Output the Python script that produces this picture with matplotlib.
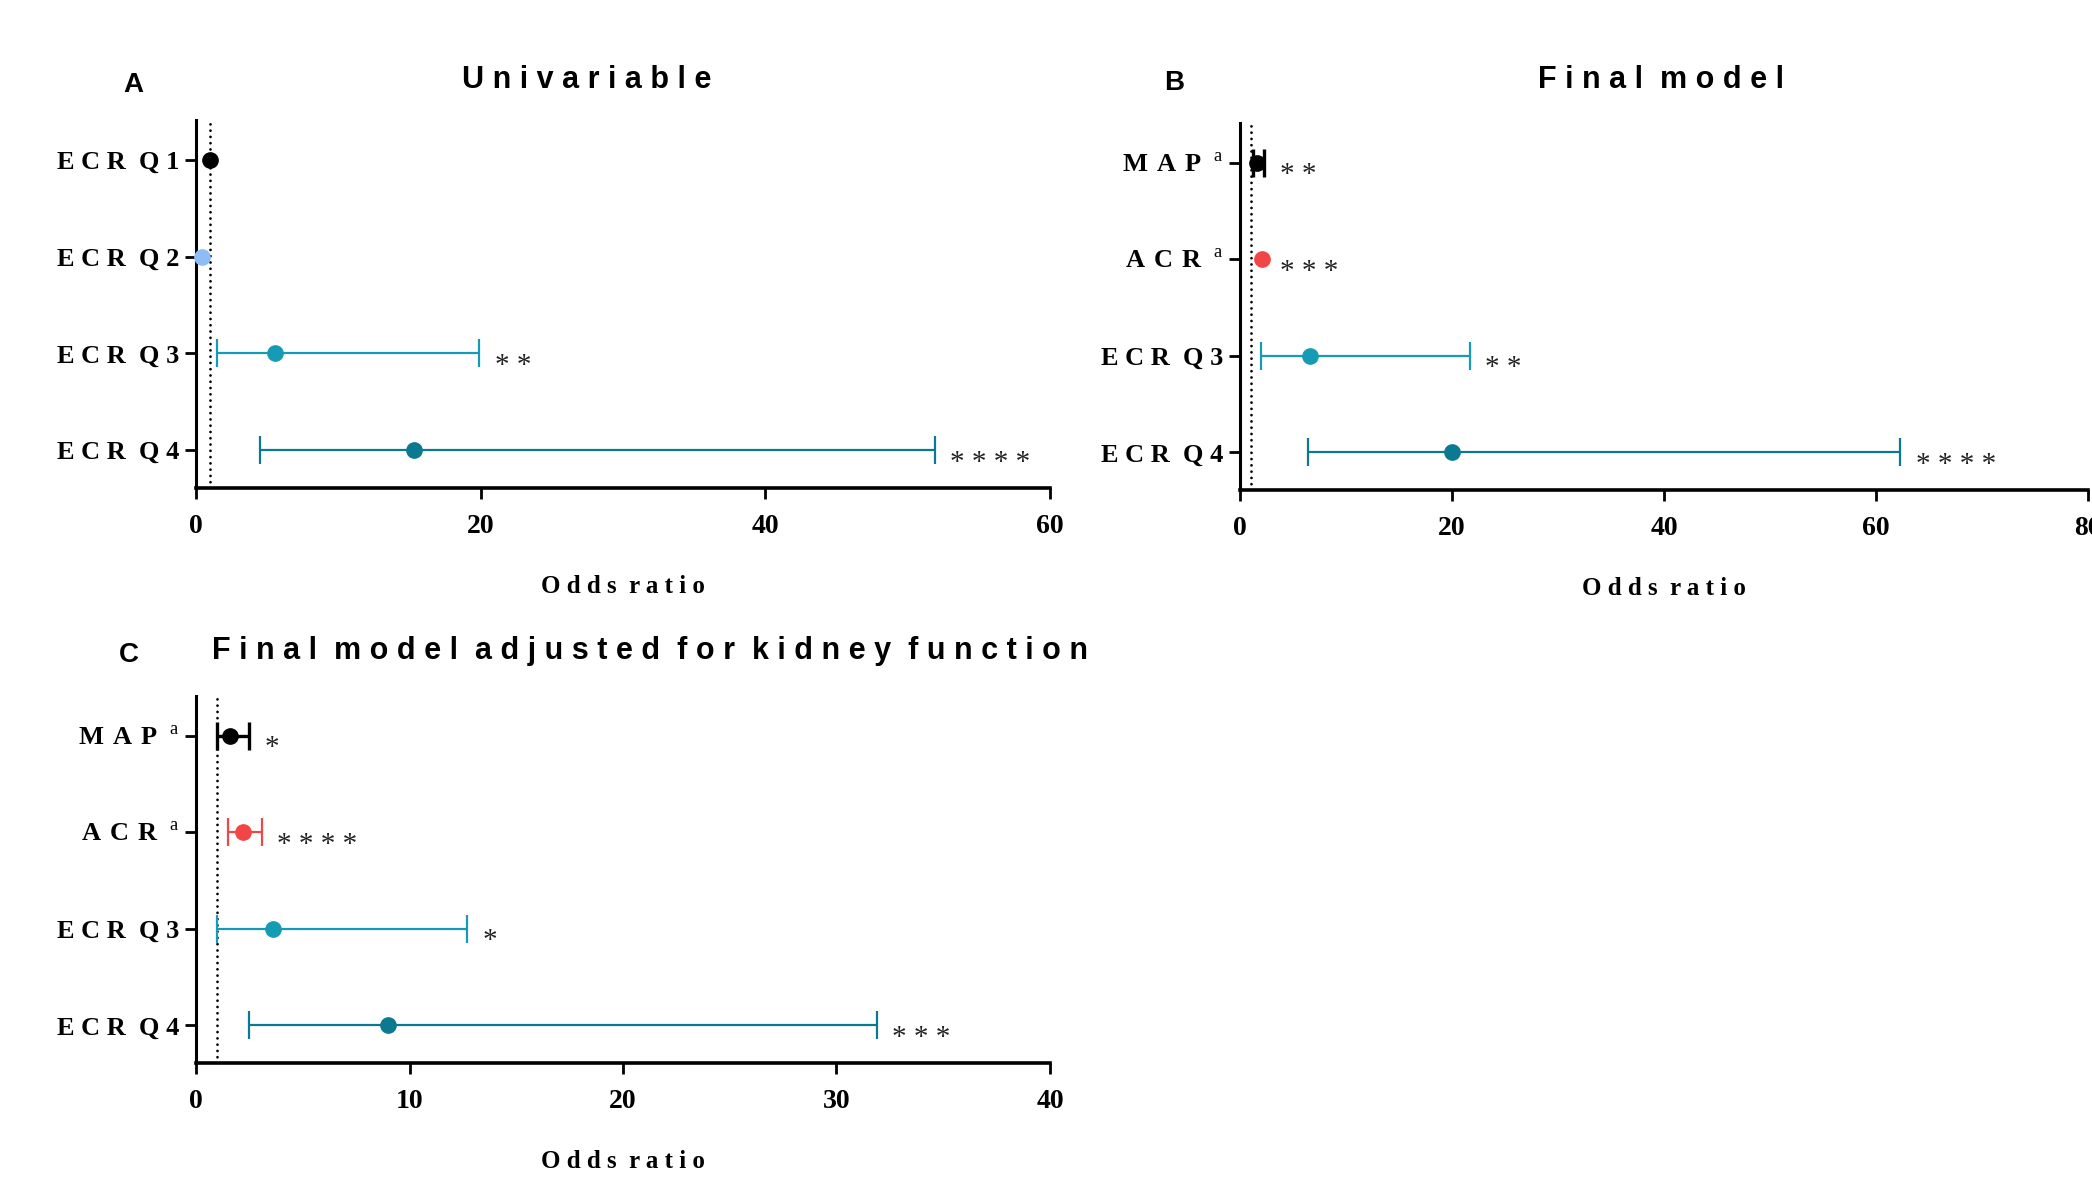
import numpy as np
import matplotlib.pyplot as plt

plt.rcParams['font.family'] = 'Liberation Serif'
plt.rcParams['font.weight'] = 'bold'
plt.rcParams['mathtext.fontset'] = 'custom'
plt.rcParams['mathtext.rm'] = 'Liberation Serif:normal'
plt.rcParams['mathtext.bf'] = 'Liberation Serif:bold'

# colours
BLACK = '#000000'
LIGHTBLUE = '#8EBDF6'
TEAL = '#169BB4'
DARKTEAL = '#0B7990'
RED = '#F24545'

# panel A - univariable
a_labels = ['ECR Q1', 'ECR Q2', 'ECR Q3', 'ECR Q4']
a_or = [1.0, 0.45, 5.55, 15.3]
a_lo = [None, None, 1.5, 4.5]
a_hi = [None, None, 19.9, 51.9]
a_stars = ['', '', '**', '****']
a_colors = [BLACK, LIGHTBLUE, TEAL, DARKTEAL]

# panel B - final model (ACR interval hidden behind its marker)
b_labels = ['MAP', 'ACR', 'ECR Q3', 'ECR Q4']
b_sup = [True, True, False, False]
b_or = [1.6, 2.05, 6.6, 20.0]
b_lo = [1.25, None, 1.95, 6.4]
b_hi = [2.3, None, 21.7, 62.3]
b_stars = ['**', '***', '**', '****']
b_colors = [BLACK, RED, TEAL, DARKTEAL]

# panel C - final model adjusted for kidney function
c_labels = ['MAP', 'ACR', 'ECR Q3', 'ECR Q4']
c_sup = [True, True, False, False]
c_or = [1.6, 2.2, 3.6, 9.0]
c_lo = [1.0, 1.5, 1.0, 2.5]
c_hi = [2.5, 3.1, 12.7, 31.9]
c_stars = ['*', '****', '*', '***']
c_colors = [BLACK, RED, TEAL, DARKTEAL]


def spaced(s):
    # wide letter spacing like the original figure
    return '  '.join(' '.join(w) for w in s.split())


def label_text(name, sup):
    if sup:
        return r'$\mathbf{' + r'\ '.join(name) + r'}^{\ \ \mathrm{a}}$'
    return spaced(name)


def forest(ax, labels, sups, odds, lo, hi, stars, colors, xmax, xticks):
    y = np.arange(len(labels))
    for i in range(len(labels)):
        lw = 2.4 if colors[i] == BLACK else 1.6
        if lo[i] is not None:
            ax.errorbar(odds[i], y[i], xerr=[[odds[i] - lo[i]], [hi[i] - odds[i]]],
                        fmt='o', color=colors[i], ms=11, capsize=10,
                        elinewidth=lw, capthick=lw, clip_on=False, zorder=3)
            right = hi[i]
        else:
            ax.plot(odds[i], y[i], 'o', color=colors[i], ms=11, clip_on=False, zorder=3)
            right = odds[i] + 0.3
        if stars[i]:
            ax.annotate(' '.join(stars[i]), xy=(right, y[i]), xytext=(11, -14),
                        textcoords='offset points', fontsize=21, fontweight='normal',
                        va='baseline', ha='left', color='#222222')
    ax.axvline(1, color='black', ls=(0, (0.01, 2.25)), lw=2.0,
               dash_capstyle='round', zorder=1)
    ax.set_xlim(0, xmax)
    ax.set_ylim(3.39, -0.41)
    ax.set_xticks(xticks)
    ax.set_xticklabels([str(t) for t in xticks], fontsize=20)
    ax.set_yticks(y)
    ax.set_yticklabels([label_text(l, s) for l, s in zip(labels, sups)], fontsize=19)
    ax.spines['top'].set_visible(False)
    ax.spines['right'].set_visible(False)
    ax.spines['left'].set_linewidth(2.2)
    ax.spines['bottom'].set_linewidth(2.6)
    ax.tick_params(axis='x', length=8, width=2, pad=11)
    ax.tick_params(axis='y', length=8, width=2, pad=4)
    ax.set_xlabel(spaced('Odds ratio'), fontsize=18, fontweight='bold', labelpad=26)


fig = plt.figure(figsize=(20.92, 11.89), dpi=100)

axA = fig.add_axes([0.0937, 0.5896, 0.4082, 0.3095])
forest(axA, a_labels, [False] * 4, a_or, a_lo, a_hi, a_stars, a_colors, 60, [0, 20, 40, 60])

axB = fig.add_axes([0.5927, 0.5879, 0.4054, 0.3087])
forest(axB, b_labels, b_sup, b_or, b_lo, b_hi, b_stars, b_colors, 80, [0, 20, 40, 60, 80])

axC = fig.add_axes([0.0937, 0.1060, 0.4082, 0.3087])
forest(axC, c_labels, c_sup, c_or, c_lo, c_hi, c_stars, c_colors, 40, [0, 10, 20, 30, 40])

# titles and panel letters
tkw = dict(family='Liberation Sans', fontweight='bold', fontsize=22, ha='center', va='center')
fig.text(587 / 2092, 1 - 80 / 1189, spaced('Univariable'), **tkw)
fig.text(1661 / 2092, 1 - 80 / 1189, spaced('Final model'), **tkw)
fig.text(650 / 2092, 1 - 651 / 1189, spaced('Final model adjusted for kidney function'), **tkw)

lkw = dict(family='Liberation Sans', fontweight='bold', fontsize=20, ha='center', va='center')
fig.text(133 / 2092, 1 - 85 / 1189, 'A', **lkw)
fig.text(1174 / 2092, 1 - 83 / 1189, 'B', **lkw)
fig.text(129 / 2092, 1 - 655 / 1189, 'C', **lkw)

fig.savefig('out.png', dpi=100)
